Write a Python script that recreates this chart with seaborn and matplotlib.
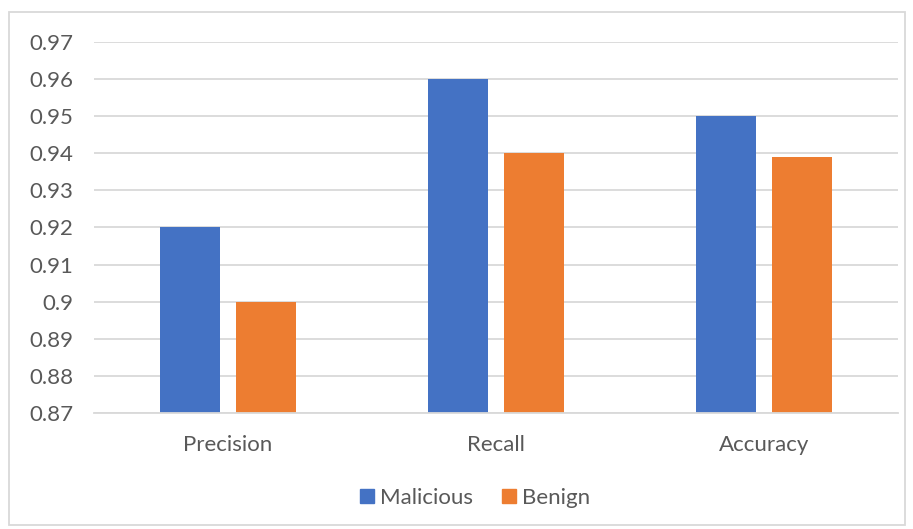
import matplotlib
matplotlib.use("Agg")
import matplotlib.pyplot as plt
import seaborn as sns
import pandas as pd
from matplotlib.patches import Rectangle
from matplotlib.lines import Line2D

categories = ["Precision", "Recall", "Accuracy"]
series_names = ["Malicious", "Benign"]
malicious = [0.92, 0.96, 0.95]
benign = [0.90, 0.94, 0.939]
yticks = [0.87, 0.88, 0.89, 0.90, 0.91, 0.92, 0.93, 0.94, 0.95, 0.96, 0.97]
ytick_labels = ["0.87", "0.88", "0.89", "0.9", "0.91", "0.92", "0.93", "0.94", "0.95", "0.96", "0.97"]
colors = ["#4472C4", "#ED7D31"]

df = pd.DataFrame({
    "Metric": categories * 2,
    "Series": [series_names[0]] * 3 + [series_names[1]] * 3,
    "Value": malicious + benign,
})

sns.set_theme(style="white")
plt.rcParams['font.family'] = ['Lato', 'DejaVu Sans']
text_color = "#595959"
grid_color = "#D9D9D9"

W, H = 913, 529
fig = plt.figure(figsize=(W / 100, H / 100), dpi=100)
ax = fig.add_axes([94 / W, 1 - 413 / H, (898 - 94) / W, (413 - 42) / H])

sns.barplot(data=df, x="Metric", y="Value", hue="Series", order=categories,
            hue_order=series_names, palette=colors, width=0.567, gap=0.21,
            ax=ax, legend=False, saturation=1, edgecolor="none", linewidth=0)

ax.set_ylim(0.87, 0.97)
ax.set_xlim(-0.5, 2.5)
ax.set_yticks(yticks)
ax.set_yticklabels(ytick_labels)
ax.yaxis.grid(True, color=grid_color, linewidth=1.3)
ax.set_axisbelow(True)
for s in ["top", "right", "left"]:
    ax.spines[s].set_visible(False)
ax.spines["bottom"].set_color(grid_color)
ax.spines["bottom"].set_linewidth(1.3)
ax.tick_params(axis="both", length=0, labelsize=16, colors=text_color)
ax.tick_params(axis="y", pad=15)
ax.tick_params(axis="x", pad=16)
ax.set_xlabel("")
ax.set_ylabel("")

handles = [Line2D([0], [0], marker="s", linestyle="none", markersize=10,
                  markerfacecolor=c, markeredgecolor=c) for c in colors]
fig.legend(handles, series_names, loc="center", bbox_to_anchor=(473 / W, 1 - 498 / H),
           ncol=2, frameon=False, fontsize=16, labelcolor=text_color,
           handletextpad=0.1, columnspacing=1.1, handlelength=1.0)

fig.patches.append(Rectangle((9 / W, 1 - 525 / H), (905 - 9) / W, (525 - 12) / H,
                             transform=fig.transFigure, fill=False,
                             edgecolor=grid_color, linewidth=1.3))

fig.savefig("out.png", dpi=100)
